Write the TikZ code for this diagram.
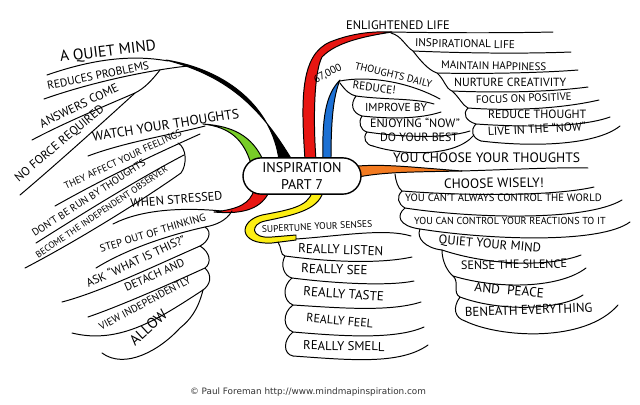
\documentclass[tikz,border=0pt]{standalone}
\usepackage{fontspec}
\setmainfont{PT Sans}
\newfontfamily\hand{PT Sans}
\newfontfamily\webfont{DejaVu Sans}
\definecolor{mapred}{RGB}{232, 22, 18}
\definecolor{mapgreen}{RGB}{120, 205, 40}
\definecolor{mapyellow}{RGB}{252, 238, 20}
\definecolor{maporange}{RGB}{242, 122, 32}
\definecolor{mapblue}{RGB}{28, 112, 212}
\tikzset{
  lbl/.style={font=\hand\fontsize{#1}{#1}\selectfont, inner sep=0.6pt},
  lbl/.default=8,
  twig/.style={line width=0.7pt, line cap=round, line join=round},
  limb/.style={draw=black, line width=0.7pt, line join=round},
}

\begin{document}
\begin{tikzpicture}[x=0.025cm, y=-0.025cm]
  \useasboundingbox (0,0) rectangle (640,404);

  % Branches
  \filldraw[limb, fill=black] (279,160) .. controls (272,108) and (228,70) .. (166,60)
    .. controls (232,77) and (263,112) .. (292,160) -- cycle;
  \filldraw[limb, fill=mapgreen] (251,164) .. controls (244,140) and (230,127) .. (203,124)
    .. controls (233,126) and (252,136) .. (263,160) -- cycle;
  \filldraw[limb, fill=mapred] (254,190) .. controls (250,203) and (240,209) .. (214,212)
    .. controls (246,215) and (262,207) .. (269,192) -- cycle;
  \filldraw[limb, fill=mapyellow] (312,192) .. controls (308,207) and (288,210) .. (262,215)
    .. controls (238,221) and (238,245) .. (272,243) -- (296,240) -- (296,235) -- (272,237)
    .. controls (250,239) and (250,224) .. (265,221) .. controls (294,215) and (318,210) .. (323,192) -- cycle;
  \filldraw[limb, fill=maporange] (358,166) .. controls (385,164) and (410,167) .. (462,171)
    .. controls (410,172) and (385,172) .. (358,177) -- cycle;
  \filldraw[limb, fill=mapred] (305,160) .. controls (301,100) and (300,55) .. (330,42)
    .. controls (350,34) and (370,31) .. (392,32) .. controls (366,36) and (336,42) .. (322,57)
    .. controls (314,72) and (313,120) .. (316,160) -- cycle;
  \filldraw[limb, fill=mapblue] (323,160) .. controls (322,120) and (325,95) .. (340,80)
    .. controls (333,97) and (331,122) .. (331,160) -- cycle;

  % Centre
  \node[draw, line width=1pt, rounded corners=13pt, fill=white, minimum width=2.95cm,
        minimum height=0.9cm, align=center, font=\hand\fontsize{10}{12}\selectfont]
        (ctr) at (302,176) {INSPIRATION\\PART 7};

  % A quiet mind
  \node[lbl=11, anchor=south east, rotate=7] (quiet) at (158,54) {A QUIET MIND};
  \node[lbl=8.1, anchor=south east, rotate=11.5] (problems) at (151,70) {REDUCES PROBLEMS};
  \node[lbl=8.6, anchor=south east, rotate=26] (answers) at (121,91) {ANSWERS COME};
  \node[lbl=8.6, anchor=south east, rotate=40] (noforce) at (108,112) {NO FORCE REQUIRED};
  \draw[twig] (168,61) .. controls (130,54) and (90,60) .. (47,75);
  \draw[twig] (188,66) .. controls (150,70) and (92,82) .. (44,99);
  \draw[twig] (160,70) .. controls (152,80) and (145,88) .. (135,93)
    .. controls (100,108) and (62,124) .. (32,140);
  \draw[twig] (135,93) .. controls (100,125) and (52,168) .. (20,195);

  % Watch your thoughts
  \node[lbl=9.6, anchor=south east, rotate=9] (watch) at (241,119) {WATCH YOUR THOUGHTS};
  \node[lbl=7, anchor=south east, rotate=25] (feelings) at (184,136) {THEY AFFECT YOUR FEELINGS};
  \node[lbl=7.3, anchor=south east, rotate=33] (runby) at (148,165) {DON’T BE RUN BY THOUGHTS};
  \node[lbl=6.5, anchor=south east, rotate=34] (observer) at (170,171) {BECOME THE INDEPENDENT OBSERVER};
  \draw[twig] (205,126) .. controls (175,134) and (125,142) .. (88,156);
  \draw[twig] (200,134) .. controls (160,152) and (110,175) .. (55,206);
  \draw[twig] (178,143) .. controls (187,148) and (187,165) .. (181,173)
    .. controls (140,202) and (75,242) .. (25,268);
  \draw[twig] (184,155) .. controls (140,178) and (85,212) .. (36,243);

  % When stressed
  \node[lbl=8.8, anchor=south east, rotate=5] (stressed) at (224,201) {WHEN STRESSED};
  \node[lbl=7.5, anchor=south east, rotate=17] (stepout) at (208,221) {STEP OUT OF THINKING};
  \node[lbl=8.4, anchor=south east, rotate=25] (ask) at (188,243) {ASK “WHAT IS THIS?”};
  \node[lbl=8.1, anchor=south east, rotate=24] (detach) at (187,266) {DETACH AND};
  \node[lbl=7.4, anchor=south east, rotate=28] (view) at (193,283) {VIEW INDEPENDENTLY};
  \node[lbl=10.5, anchor=south east, rotate=42.6] (allow) at (170,316) {ALLOW};
  \draw[twig] (222,211) .. controls (180,207) and (140,210) .. (113,224);
  \draw[twig] (232,211) .. controls (226,221) and (216,225) .. (205,227)
    .. controls (165,236) and (125,250) .. (96,268);
  \draw[twig] (205,227) .. controls (213,232) and (208,242) .. (200,246)
    .. controls (210,252) and (212,263) .. (205,268) .. controls (213,276) and (210,285) .. (203,290);
  \draw[twig] (200,246) .. controls (150,268) and (100,292) .. (62,302);
  \draw[twig] (205,268) .. controls (170,284) and (120,306) .. (88,317);
  \draw[twig] (203,290) .. controls (160,318) and (120,345) .. (72,333);
  \draw[twig] (203,290) .. controls (198,310) and (190,320) .. (180,328)
    .. controls (160,350) and (125,370) .. (102,353);

  % Supertune your senses
  \node[lbl=6.8, anchor=south west, rotate=3] (supertune) at (261,234) {SUPERTUNE YOUR SENSES};
  \node[lbl=9.2, anchor=south west, rotate=-2] (listen) at (297,254) {REALLY LISTEN};
  \node[lbl=9.3, anchor=south west, rotate=-2] (see) at (300,274) {REALLY SEE};
  \node[lbl=9.3, anchor=south west, rotate=-4] (taste) at (302,297) {REALLY TASTE};
  \node[lbl=8.5, anchor=south west, rotate=-5] (feel) at (305,323) {REALLY FEEL};
  \node[lbl=9.1, anchor=south west, rotate=-1] (smell) at (302,351) {REALLY SMELL};
  \draw[twig] (296,239) .. controls (340,236) and (385,228) .. (411,236);
  \draw[twig] (278,242) .. controls (282,248) and (280,255) .. (285,256)
    .. controls (280,265) and (284,276) .. (292,278) .. controls (282,286) and (283,301) .. (293,305)
    .. controls (282,313) and (283,328) .. (293,332) .. controls (283,340) and (283,354) .. (293,356);
  \draw[twig] (285,256) .. controls (330,262) and (380,264) .. (412,257);
  \draw[twig] (292,278) .. controls (340,284) and (390,286) .. (414,281);
  \draw[twig] (293,305) .. controls (340,308) and (390,312) .. (421,302);
  \draw[twig] (293,332) .. controls (340,336) and (395,340) .. (424,327);
  \draw[twig] (293,356) .. controls (350,360) and (400,365) .. (428,345);

  % You choose your thoughts
  \node[lbl=9.7, anchor=south west] (choose) at (392,164) {YOU CHOOSE YOUR THOUGHTS};
  \node[lbl=9.6, anchor=south west, rotate=1] (wisely) at (443,190) {CHOOSE WISELY!};
  \node[lbl=7.6, anchor=south west] (world) at (404,203) {YOU CAN’T ALWAYS CONTROL THE WORLD};
  \node[lbl=7.2, anchor=south west] (reactions) at (413,226) {YOU CAN CONTROL YOUR REACTIONS TO IT};
  \node[lbl=9, anchor=south west, rotate=-5] (quietmind) at (437,247) {QUIET YOUR MIND};
  \node[lbl=8.6, anchor=south west, rotate=1] (silence) at (460,271) {SENSE THE SILENCE};
  \node[lbl=9.5, anchor=south west, rotate=-5] (peace) at (473,293) {AND \ PEACE};
  \node[lbl=9.2, anchor=south west, rotate=2] (beneath) at (464,318) {BENEATH EVERYTHING};
  \draw[twig] (461,171) .. controls (500,170) and (560,167) .. (588,168);
  \draw[twig] (395,174) .. controls (396,182) and (398,188) .. (402,191)
    .. controls (396,197) and (398,204) .. (405,208) .. controls (396,215) and (398,226) .. (420,229)
    .. controls (416,238) and (425,248) .. (442,250) .. controls (442,262) and (448,272) .. (453,276)
    .. controls (460,282) and (452,293) .. (460,297) .. controls (452,308) and (455,318) .. (465,321);
  \draw[twig] (402,191) .. controls (480,197) and (560,195) .. (594,187);
  \draw[twig] (405,208) .. controls (470,218) and (585,222) .. (622,200);
  \draw[twig] (420,229) .. controls (490,240) and (600,244) .. (630,222);
  \draw[twig] (442,250) .. controls (490,266) and (550,267) .. (581,255);
  \draw[twig] (453,276) .. controls (500,290) and (560,288) .. (586,268);
  \draw[twig] (460,297) .. controls (500,312) and (560,310) .. (583,295);
  \draw[twig] (465,321) .. controls (500,338) and (585,343) .. (618,305);

  % Enlightened life
  \node[lbl=8.8, anchor=south west] (enlightened) at (345,31) {ENLIGHTENED LIFE};
  \node[lbl=8, anchor=south west, rotate=-1] (inspirational) at (414,48) {INSPIRATIONAL LIFE};
  \node[lbl=7.8, anchor=south west, rotate=-1] (happiness) at (440,70) {MAINTAIN HAPPINESS};
  \node[lbl=8.4, anchor=south west] (creativity) at (453,88) {NURTURE CREATIVITY};
  \node[lbl=7.7, anchor=south west, rotate=2] (positive) at (475,105) {FOCUS ON POSITIVE};
  \node[lbl=8.5, anchor=south west] (reduce) at (487,120) {REDUCE THOUGHT};
  \node[lbl=8.4, anchor=south west, rotate=3] (livenow) at (487,137) {LIVE IN THE “NOW”};
  \draw[twig] (390,32) .. controls (450,33) and (510,33) .. (553,32);
  \draw[twig] (391,33) .. controls (402,36) and (405,46) .. (413,51)
    .. controls (420,60) and (428,70) .. (437,73) .. controls (445,80) and (445,88) .. (452,91)
    .. controls (460,98) and (462,105) .. (468,108) .. controls (462,114) and (466,121) .. (476,124)
    .. controls (470,130) and (472,138) .. (481,141);
  \draw[twig] (413,51) .. controls (460,53) and (520,54) .. (571,52);
  \draw[twig] (437,73) .. controls (480,74) and (540,73) .. (578,70);
  \draw[twig] (452,91) .. controls (500,93) and (550,92) .. (588,87);
  \draw[twig] (468,108) .. controls (510,111) and (560,109) .. (599,100);
  \draw[twig] (476,124) .. controls (520,127) and (580,128) .. (610,117);
  \draw[twig] (481,141) .. controls (530,147) and (595,146) .. (620,126);

  % 67,000 thoughts daily
  \node[lbl=7.5, anchor=south west, rotate=27] (count) at (316,86) {67,000};
  \node[lbl=7.3, anchor=south west, rotate=-13.5] (daily) at (353,70) {THOUGHTS DAILY};
  \node[lbl=8, anchor=south west, rotate=-7] (reducebang) at (351,90) {REDUCE!};
  \node[lbl=8.2, anchor=south west] (improve) at (364,113) {IMPROVE BY};
  \node[lbl=8.6, anchor=south west] (enjoying) at (369,129) {ENJOYING “NOW”};
  \node[lbl=8.5, anchor=south west] (best) at (379,143) {DO YOUR BEST};
  \draw[twig] (340,81) .. controls (365,76) and (405,80) .. (440,99);
  \draw[twig] (340,83) .. controls (345,90) and (350,95) .. (356,96)
    .. controls (350,104) and (352,113) .. (362,116) .. controls (358,122) and (360,130) .. (367,132)
    .. controls (362,138) and (366,145) .. (373,146);
  \draw[twig] (356,96) .. controls (385,100) and (415,98) .. (434,104);
  \draw[twig] (362,116) .. controls (390,119) and (420,119) .. (441,112);
  \draw[twig] (367,132) .. controls (400,137) and (445,139) .. (470,131);
  \draw[twig] (373,146) .. controls (400,155) and (455,158) .. (474,135);

  % Credit
  \node[font=\webfont\fontsize{6.3}{7}\selectfont, text=black!80] (credit) at (308,392)
    {© Paul Foreman http://www.mindmapinspiration.com};
\end{tikzpicture}
\end{document}
